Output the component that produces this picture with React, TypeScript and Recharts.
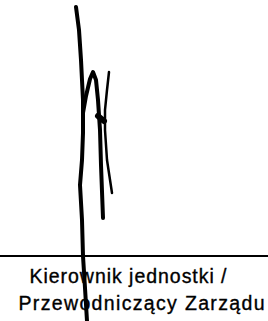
import React from "react";
import { LineChart, Line, XAxis, YAxis, ReferenceLine, Customized } from "recharts";

// Signature strokes (x, y in pixel-like units, y grows downward)
const strokeMain = [
  { x: 76, y: 7 }, { x: 79, y: 30 }, { x: 81, y: 60 }, { x: 83, y: 100 },
  { x: 83, y: 133 }, { x: 82, y: 160 }, { x: 80, y: 185 }, { x: 82, y: 220 },
  { x: 83, y: 256 }, { x: 85, y: 288 }, { x: 87, y: 321 },
];
const strokeN = [
  { x: 83, y: 113 }, { x: 86, y: 96 }, { x: 90, y: 79 }, { x: 93, y: 72 },
  { x: 96, y: 80 }, { x: 98, y: 100 }, { x: 100, y: 130 }, { x: 101, y: 165 },
  { x: 103, y: 218 },
];
const strokeRight = [
  { x: 109, y: 72 }, { x: 107, y: 90 }, { x: 105, y: 110 }, { x: 105, y: 130 },
  { x: 107, y: 160 }, { x: 112, y: 193 },
];
const strokeBar = [
  { x: 98, y: 116 }, { x: 104, y: 121 },
];

const lineY = 256;
const labelLines = ["Kierownik jednostki /", "Przewodniczący Zarządu"];
const labelX = [29.5, 18.5];
const labelY = [283, 310];
const labelWidth = [197, 246];

const Labels = () => (
  <g>
    {labelLines.map((t, i) => (
      <text
        key={i}
        x={labelX[i]}
        y={labelY[i]}
        fontFamily="'Liberation Sans', Arial, sans-serif"
        fontSize={19.5}
        fill="#000"
        stroke="#000"
        strokeWidth={0.35}
        textLength={labelWidth[i]}
        lengthAdjust="spacing"
      >
        {t}
      </text>
    ))}
  </g>
);

export default function App() {
  return (
    <div style={{ position: "absolute", left: 0, top: 0, width: 268, height: 321, background: "#fff" }}>
      <LineChart width={268} height={321} margin={{ top: 0, right: 0, bottom: 0, left: 0 }}>
        <XAxis dataKey="x" type="number" domain={[0, 268]} hide allowDataOverflow />
        <YAxis type="number" domain={[0, 321]} reversed hide allowDataOverflow />
        <ReferenceLine y={lineY} stroke="#000" strokeWidth={2} />
        <Customized component={Labels} />
        <Line data={strokeMain} dataKey="y" type="linear" stroke="#000" strokeWidth={4} dot={false} activeDot={false} strokeLinecap="round" strokeLinejoin="round" isAnimationActive={false} />
        <Line data={strokeN} dataKey="y" type="linear" stroke="#000" strokeWidth={4} dot={false} activeDot={false} strokeLinecap="round" strokeLinejoin="round" isAnimationActive={false} />
        <Line data={strokeRight} dataKey="y" type="linear" stroke="#000" strokeWidth={2.5} dot={false} activeDot={false} strokeLinecap="round" strokeLinejoin="round" isAnimationActive={false} />
        <Line data={strokeBar} dataKey="y" type="linear" stroke="#000" strokeWidth={6} dot={false} activeDot={false} strokeLinecap="round" isAnimationActive={false} />
      </LineChart>
    </div>
  );
}
